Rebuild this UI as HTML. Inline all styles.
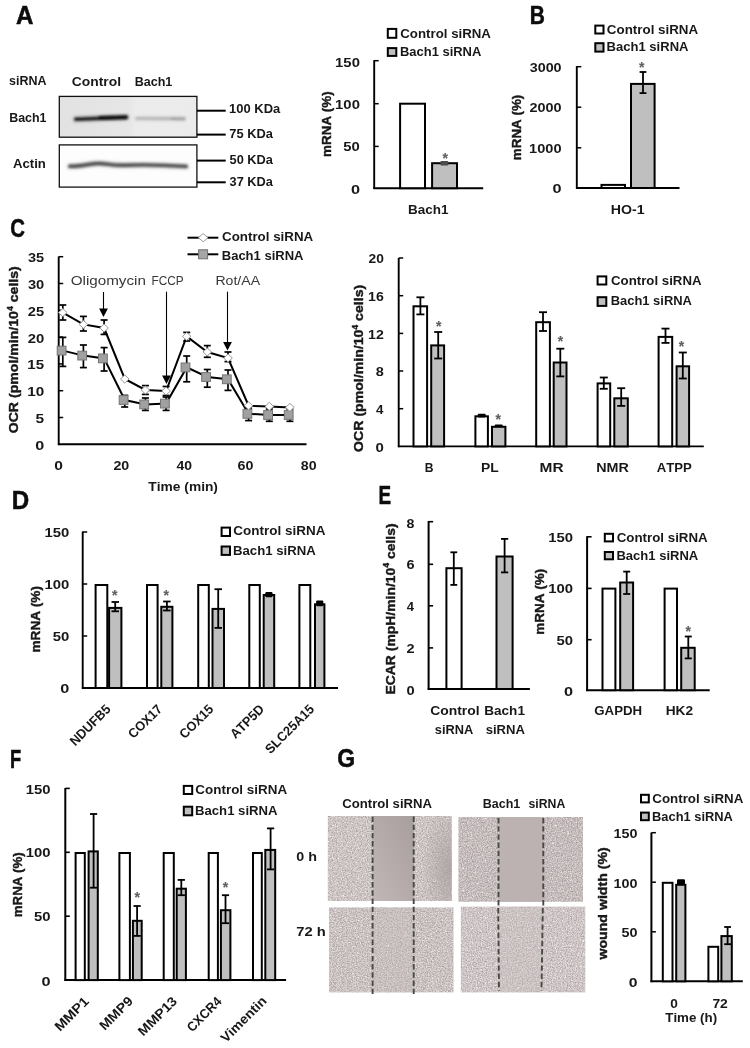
<!DOCTYPE html>
<html><head><meta charset="utf-8"><title>Figure</title>
<style>html,body{margin:0;padding:0;background:#fff}svg{display:block}text{font-kerning:none;font-family:"Liberation Sans",sans-serif;font-weight:bold;fill:#181818}</style>
</head><body>
<svg width="750" height="1048" viewBox="0 0 750 1048">
<defs>
<linearGradient id="blot1" x1="0" x2="1"><stop offset="0" stop-color="#e2e2e2"/><stop offset=".5" stop-color="#e6e6e6"/><stop offset=".56" stop-color="#ececec"/><stop offset="1" stop-color="#ebebeb"/></linearGradient>
<filter id="blur1" x="-5%" y="-150%" width="110%" height="400%"><feGaussianBlur stdDeviation="0.8"/></filter>
<filter id="blur2" x="-5%" y="-150%" width="110%" height="400%"><feGaussianBlur stdDeviation="1.6"/></filter>
<filter id="soft" x="-10%" y="0" width="120%" height="100%"><feGaussianBlur stdDeviation="2 0"/></filter>
<filter id="tex1" x="0" y="0" width="100%" height="100%" color-interpolation-filters="sRGB"><feTurbulence type="fractalNoise" baseFrequency="0.8" numOctaves="2" seed="6"/><feColorMatrix type="matrix" values="0 0 0 0.45 0.575  0 0 0 0.45 0.540  0 0 0 0.45 0.540  0 0 0 0 1"/><feComposite in2="SourceGraphic" operator="in"/></filter>
<filter id="tex2" x="0" y="0" width="100%" height="100%" color-interpolation-filters="sRGB"><feTurbulence type="fractalNoise" baseFrequency="0.8" numOctaves="2" seed="11"/><feColorMatrix type="matrix" values="0 0 0 0.45 0.547  0 0 0 0.45 0.510  0 0 0 0.45 0.512  0 0 0 0 1"/><feComposite in2="SourceGraphic" operator="in"/></filter>
<filter id="tex3" x="0" y="0" width="100%" height="100%" color-interpolation-filters="sRGB"><feTurbulence type="fractalNoise" baseFrequency="0.8" numOctaves="2" seed="16"/><feColorMatrix type="matrix" values="0 0 0 0.45 0.567  0 0 0 0.45 0.533  0 0 0 0.45 0.533  0 0 0 0 1"/><feComposite in2="SourceGraphic" operator="in"/></filter>
<filter id="tex4" x="0" y="0" width="100%" height="100%" color-interpolation-filters="sRGB"><feTurbulence type="fractalNoise" baseFrequency="0.8" numOctaves="2" seed="21"/><feColorMatrix type="matrix" values="0 0 0 0.45 0.580  0 0 0 0.45 0.548  0 0 0 0.45 0.548  0 0 0 0 1"/><feComposite in2="SourceGraphic" operator="in"/></filter>
<filter id="spk" x="0" y="0" width="100%" height="100%" color-interpolation-filters="sRGB"><feTurbulence type="fractalNoise" baseFrequency="0.4" numOctaves="1" seed="11"/><feColorMatrix type="matrix" values="0 0 0 0 1  0 0 0 0 1  0 0 0 0 1  0 0 0 10 -7"/><feComposite in2="SourceGraphic" operator="in"/></filter>
<linearGradient id="w1" x1="1" y1="0" x2="0" y2="1"><stop offset="0" stop-color="#a89e9e"/><stop offset="1" stop-color="#c1b7b6"/></linearGradient>
<radialGradient id="d1" cx="0.95" cy="0.62" r="0.75"><stop offset="0" stop-color="#a79d9e" stop-opacity=".75"/><stop offset="1" stop-color="#a3999a" stop-opacity="0"/></radialGradient>
</defs>
<rect width="750" height="1048" fill="#fff"/>
<text transform="translate(15.95,24.0) scale(0.966,1)" font-size="25" style="fill:#0c0c0c" stroke="#0c0c0c" stroke-width=".5">A</text>
<text transform="translate(529.85,24.0) scale(0.840,1)" font-size="25" style="fill:#0c0c0c" stroke="#0c0c0c" stroke-width=".5">B</text>
<text transform="translate(10.32,237.0) scale(0.814,1)" font-size="25" style="fill:#0c0c0c" stroke="#0c0c0c" stroke-width=".5">C</text>
<text transform="translate(11.64,509.3) scale(0.965,1)" font-size="25" style="fill:#0c0c0c" stroke="#0c0c0c" stroke-width=".5">D</text>
<text transform="translate(378.59,504.0) scale(0.756,1)" font-size="25" style="fill:#0c0c0c" stroke="#0c0c0c" stroke-width=".5">E</text>
<text transform="translate(9.92,767.6) scale(0.733,1)" font-size="25" style="fill:#0c0c0c" stroke="#0c0c0c" stroke-width=".5">F</text>
<text transform="translate(337.31,767.2) scale(0.919,1)" font-size="25" style="fill:#0c0c0c" stroke="#0c0c0c" stroke-width=".5">G</text>
<text transform="translate(9.06,84.6) scale(0.939,1)" font-size="13.3">siRNA</text>
<text transform="translate(71.73,85.7) scale(1.042,1)" font-size="13.3">Control</text>
<text transform="translate(134.66,85.7) scale(0.944,1)" font-size="13.3">Bach1</text>
<text transform="translate(9.17,122.4) scale(0.936,1)" font-size="13.3">Bach1</text>
<text transform="translate(12.97,167.8) scale(0.988,1)" font-size="13.3">Actin</text>
<rect x="59.3" y="96.4" width="137.6" height="40.8" fill="url(#blot1)" stroke="#111" stroke-width="1.3"/>
<rect x="59.3" y="144.9" width="137.6" height="42.2" fill="#fdfdfd" stroke="#111" stroke-width="1.3"/>
<g filter="url(#blur2)">
<path d="M76 119.2 C95 118.6 110 117.6 126 117.3" stroke="#8a8a8a" stroke-width="6.5" stroke-linecap="round" fill="none" opacity=".55"/>
<path d="M137 118.4 L184 118.8" stroke="#cfcfcf" stroke-width="5" stroke-linecap="round" fill="none" opacity=".7"/>
<path d="M70 166.2 C82 166.4 90 163.4 99 163.5 S 112 165.6 124 165.2 S 160 164.6 186 166.4" stroke="#9a9a9a" stroke-width="6" stroke-linecap="round" fill="none" opacity=".55"/>
</g>
<g filter="url(#blur1)">
<path d="M76 119.2 C95 118.6 110 117.6 126 117.3" stroke="#1e1e1e" stroke-width="3.3" stroke-linecap="round" fill="none"/>
<path d="M100 118.1 L126 117.3" stroke="#111" stroke-width="4" stroke-linecap="round" fill="none"/>
<path d="M137 118.4 L184 118.8" stroke="#b4b4b4" stroke-width="2.4" stroke-linecap="round" fill="none"/>
<path d="M172 118.7 L184 119" stroke="#a2a2a2" stroke-width="2.6" stroke-linecap="round" fill="none"/>
<path d="M70 166.2 C82 166.4 90 163.4 99 163.5 S 112 165.6 124 165.2 S 160 164.6 186 166.4" stroke="#555" stroke-width="3.4" stroke-linecap="round" fill="none"/>
</g>
<line x1="197.0" y1="110.7" x2="225.7" y2="110.7" stroke="#000" stroke-width="2"/>
<text transform="translate(229.08,113.0) scale(0.976,1)" font-size="13.3">100 KDa</text>
<line x1="197.0" y1="134.6" x2="225.7" y2="134.6" stroke="#000" stroke-width="2"/>
<text transform="translate(229.35,137.7) scale(0.966,1)" font-size="13.3">75 KDa</text>
<line x1="197.0" y1="160.6" x2="225.7" y2="160.6" stroke="#000" stroke-width="2"/>
<text transform="translate(229.51,164.3) scale(0.963,1)" font-size="13.3">50 KDa</text>
<line x1="197.0" y1="182.3" x2="225.7" y2="182.3" stroke="#000" stroke-width="2"/>
<text transform="translate(229.61,185.7) scale(0.960,1)" font-size="13.3">37 KDa</text>
<rect x="387.8" y="28.9" width="8.5" height="8.9" fill="#fff" stroke="#000" stroke-width="2"/>
<rect x="387.8" y="48.1" width="8.5" height="7.8" fill="#bfbfbf" stroke="#000" stroke-width="2"/>
<text transform="translate(400.25,37.5) scale(0.999,1)" font-size="13.3">Control siRNA</text>
<text transform="translate(399.93,56.4) scale(0.976,1)" font-size="13.3">Bach1 siRNA</text>
<line x1="374.2" y1="60.1" x2="374.2" y2="189.0" stroke="#000" stroke-width="1.9"/>
<line x1="373.4" y1="188.2" x2="483.2" y2="188.2" stroke="#000" stroke-width="1.9"/>
<line x1="374.2" y1="146.4" x2="378.7" y2="146.4" stroke="#000" stroke-width="1.5"/>
<line x1="374.2" y1="103.7" x2="378.7" y2="103.7" stroke="#000" stroke-width="1.5"/>
<line x1="374.2" y1="60.7" x2="378.7" y2="60.7" stroke="#000" stroke-width="1.5"/>
<text transform="translate(335.11,67.2) scale(1.143,1)" font-size="13">150</text>
<text transform="translate(335.11,108.5) scale(1.143,1)" font-size="13">100</text>
<text transform="translate(343.34,151.2) scale(1.146,1)" font-size="13">50</text>
<text transform="translate(350.91,193.7) scale(1.254,1)" font-size="13">0</text>
<rect x="400.1" y="103.7" width="24.9" height="84.5" fill="#fff" stroke="#000" stroke-width="2"/>
<rect x="432.1" y="163.2" width="24.9" height="25.0" fill="#bfbfbf" stroke="#000" stroke-width="2"/>
<rect x="440.4" y="160.9" width="8" height="4.5" rx="1" fill="#4a4a4a"/>
<text x="442.6" y="162.6" font-size="14" style="fill:#606060" stroke="#606060" stroke-width=".15">*</text>
<text transform="translate(408.10,214.0) scale(1.014,1)" font-size="13.3">Bach1</text>
<text transform="translate(331.0,156.88) rotate(-90) scale(1.008,1)" font-size="13.3" stroke="#181818" stroke-width=".4">mRNA (%)</text>
<rect x="595.3" y="25.6" width="8.2" height="7.9" fill="#fff" stroke="#000" stroke-width="2"/>
<rect x="595.3" y="43.2" width="8.2" height="8.4" fill="#bfbfbf" stroke="#000" stroke-width="2"/>
<text transform="translate(606.85,34.2) scale(1.005,1)" font-size="13.3">Control siRNA</text>
<text transform="translate(606.53,50.7) scale(0.982,1)" font-size="13.3">Bach1 siRNA</text>
<line x1="576.8" y1="66.1" x2="576.8" y2="188.8" stroke="#000" stroke-width="1.9"/>
<line x1="576.0" y1="188.0" x2="679.5" y2="188.0" stroke="#000" stroke-width="1.9"/>
<line x1="576.8" y1="147.8" x2="581.3" y2="147.8" stroke="#000" stroke-width="1.5"/>
<line x1="576.8" y1="107.2" x2="581.3" y2="107.2" stroke="#000" stroke-width="1.5"/>
<line x1="576.8" y1="66.7" x2="581.3" y2="66.7" stroke="#000" stroke-width="1.5"/>
<text transform="translate(529.67,71.6) scale(1.104,1)" font-size="13">3000</text>
<text transform="translate(529.50,112.0) scale(1.110,1)" font-size="13">2000</text>
<text transform="translate(529.08,152.5) scale(1.124,1)" font-size="13">1000</text>
<text transform="translate(552.61,193.1) scale(1.254,1)" font-size="13">0</text>
<rect x="601.5" y="184.9" width="23.5" height="3.1" fill="#fff" stroke="#000" stroke-width="2"/>
<rect x="631.0" y="83.9" width="23.6" height="104.1" fill="#bfbfbf" stroke="#000" stroke-width="2"/>
<line x1="643.0" y1="72.0" x2="643.0" y2="93.1" stroke="#000" stroke-width="1.8"/>
<line x1="639.6" y1="72.0" x2="646.4" y2="72.0" stroke="#000" stroke-width="1.8"/>
<line x1="639.6" y1="93.1" x2="646.4" y2="93.1" stroke="#000" stroke-width="1.8"/>
<text x="639.1" y="72.0" font-size="14" style="fill:#606060" stroke="#606060" stroke-width=".15">*</text>
<text transform="translate(610.85,213.6) scale(1.065,1)" font-size="13.3">HO-1</text>
<text transform="translate(521.3,160.18) rotate(-90) scale(1.008,1)" font-size="13.3" stroke="#181818" stroke-width=".4">mRNA (%)</text>
<line x1="58.7" y1="256.5" x2="58.7" y2="445.1" stroke="#000" stroke-width="1.9"/>
<line x1="57.9" y1="444.3" x2="306.5" y2="444.3" stroke="#000" stroke-width="1.9"/>
<line x1="58.7" y1="417.5" x2="63.2" y2="417.5" stroke="#000" stroke-width="1.5"/>
<line x1="58.7" y1="390.7" x2="63.2" y2="390.7" stroke="#000" stroke-width="1.5"/>
<line x1="58.7" y1="363.9" x2="63.2" y2="363.9" stroke="#000" stroke-width="1.5"/>
<line x1="58.7" y1="337.1" x2="63.2" y2="337.1" stroke="#000" stroke-width="1.5"/>
<line x1="58.7" y1="310.3" x2="63.2" y2="310.3" stroke="#000" stroke-width="1.5"/>
<line x1="58.7" y1="283.5" x2="63.2" y2="283.5" stroke="#000" stroke-width="1.5"/>
<line x1="58.7" y1="256.7" x2="63.2" y2="256.7" stroke="#000" stroke-width="1.5"/>
<text transform="translate(35.36,449.8) scale(1.245,1)" font-size="13">0</text>
<text transform="translate(35.52,423.0) scale(1.190,1)" font-size="13">5</text>
<text transform="translate(27.34,396.2) scale(1.175,1)" font-size="13">10</text>
<text transform="translate(27.35,369.4) scale(1.160,1)" font-size="13">15</text>
<text transform="translate(27.78,342.6) scale(1.143,1)" font-size="13">20</text>
<text transform="translate(27.79,315.8) scale(1.128,1)" font-size="13">25</text>
<text transform="translate(27.96,289.0) scale(1.130,1)" font-size="13">30</text>
<text transform="translate(27.97,262.2) scale(1.116,1)" font-size="13">35</text>
<text transform="translate(54.18,470.3) scale(1.170,1)" font-size="13.3">0</text>
<text transform="translate(113.41,470.3) scale(1.073,1)" font-size="13.3">20</text>
<text transform="translate(176.39,470.3) scale(1.054,1)" font-size="13.3">40</text>
<text transform="translate(237.58,470.3) scale(1.075,1)" font-size="13.3">60</text>
<text transform="translate(300.75,470.3) scale(1.070,1)" font-size="13.3">80</text>
<text transform="translate(148.35,490.6) scale(1.036,1)" font-size="13.3">Time (min)</text>
<text transform="translate(18.1,433.28) rotate(-90) scale(1.061,1)" font-size="13.3" stroke="#181818" stroke-width=".4">OCR (pmol/min/10<tspan font-size="8.2" dy="-5.6">4</tspan><tspan font-size="13.3" dy="5.6"> cells)</tspan></text>
<line x1="62.8" y1="305.0" x2="62.8" y2="320.0" stroke="#000" stroke-width="1.7"/>
<line x1="59.3" y1="305.0" x2="66.3" y2="305.0" stroke="#000" stroke-width="1.7"/>
<line x1="59.3" y1="320.0" x2="66.3" y2="320.0" stroke="#000" stroke-width="1.7"/>
<line x1="83.4" y1="316.4" x2="83.4" y2="331.0" stroke="#000" stroke-width="1.7"/>
<line x1="79.9" y1="316.4" x2="86.9" y2="316.4" stroke="#000" stroke-width="1.7"/>
<line x1="79.9" y1="331.0" x2="86.9" y2="331.0" stroke="#000" stroke-width="1.7"/>
<line x1="104.1" y1="320.0" x2="104.1" y2="334.4" stroke="#000" stroke-width="1.7"/>
<line x1="100.6" y1="320.0" x2="107.6" y2="320.0" stroke="#000" stroke-width="1.7"/>
<line x1="100.6" y1="334.4" x2="107.6" y2="334.4" stroke="#000" stroke-width="1.7"/>
<line x1="145.4" y1="385.6" x2="145.4" y2="394.4" stroke="#000" stroke-width="1.7"/>
<line x1="141.9" y1="385.6" x2="148.9" y2="385.6" stroke="#000" stroke-width="1.7"/>
<line x1="141.9" y1="394.4" x2="148.9" y2="394.4" stroke="#000" stroke-width="1.7"/>
<line x1="166.1" y1="386.5" x2="166.1" y2="395.5" stroke="#000" stroke-width="1.7"/>
<line x1="162.6" y1="386.5" x2="169.6" y2="386.5" stroke="#000" stroke-width="1.7"/>
<line x1="162.6" y1="395.5" x2="169.6" y2="395.5" stroke="#000" stroke-width="1.7"/>
<line x1="186.7" y1="332.4" x2="186.7" y2="341.0" stroke="#000" stroke-width="1.7"/>
<line x1="183.2" y1="332.4" x2="190.2" y2="332.4" stroke="#000" stroke-width="1.7"/>
<line x1="183.2" y1="341.0" x2="190.2" y2="341.0" stroke="#000" stroke-width="1.7"/>
<line x1="207.3" y1="345.6" x2="207.3" y2="357.3" stroke="#000" stroke-width="1.7"/>
<line x1="203.8" y1="345.6" x2="210.8" y2="345.6" stroke="#000" stroke-width="1.7"/>
<line x1="203.8" y1="357.3" x2="210.8" y2="357.3" stroke="#000" stroke-width="1.7"/>
<line x1="228.0" y1="352.0" x2="228.0" y2="361.6" stroke="#000" stroke-width="1.7"/>
<line x1="224.5" y1="352.0" x2="231.5" y2="352.0" stroke="#000" stroke-width="1.7"/>
<line x1="224.5" y1="361.6" x2="231.5" y2="361.6" stroke="#000" stroke-width="1.7"/>
<line x1="62.8" y1="337.4" x2="62.8" y2="366.4" stroke="#000" stroke-width="1.7"/>
<line x1="59.3" y1="337.4" x2="66.3" y2="337.4" stroke="#000" stroke-width="1.7"/>
<line x1="59.3" y1="366.4" x2="66.3" y2="366.4" stroke="#000" stroke-width="1.7"/>
<line x1="83.4" y1="345.0" x2="83.4" y2="367.6" stroke="#000" stroke-width="1.7"/>
<line x1="79.9" y1="345.0" x2="86.9" y2="345.0" stroke="#000" stroke-width="1.7"/>
<line x1="79.9" y1="367.6" x2="86.9" y2="367.6" stroke="#000" stroke-width="1.7"/>
<line x1="104.1" y1="347.6" x2="104.1" y2="371.0" stroke="#000" stroke-width="1.7"/>
<line x1="100.6" y1="347.6" x2="107.6" y2="347.6" stroke="#000" stroke-width="1.7"/>
<line x1="100.6" y1="371.0" x2="107.6" y2="371.0" stroke="#000" stroke-width="1.7"/>
<line x1="124.8" y1="395.4" x2="124.8" y2="407.0" stroke="#000" stroke-width="1.7"/>
<line x1="121.2" y1="395.4" x2="128.2" y2="395.4" stroke="#000" stroke-width="1.7"/>
<line x1="121.2" y1="407.0" x2="128.2" y2="407.0" stroke="#000" stroke-width="1.7"/>
<line x1="145.4" y1="398.0" x2="145.4" y2="410.4" stroke="#000" stroke-width="1.7"/>
<line x1="141.9" y1="398.0" x2="148.9" y2="398.0" stroke="#000" stroke-width="1.7"/>
<line x1="141.9" y1="410.4" x2="148.9" y2="410.4" stroke="#000" stroke-width="1.7"/>
<line x1="166.1" y1="397.0" x2="166.1" y2="410.4" stroke="#000" stroke-width="1.7"/>
<line x1="162.6" y1="397.0" x2="169.6" y2="397.0" stroke="#000" stroke-width="1.7"/>
<line x1="162.6" y1="410.4" x2="169.6" y2="410.4" stroke="#000" stroke-width="1.7"/>
<line x1="186.7" y1="356.0" x2="186.7" y2="381.8" stroke="#000" stroke-width="1.7"/>
<line x1="183.2" y1="356.0" x2="190.2" y2="356.0" stroke="#000" stroke-width="1.7"/>
<line x1="183.2" y1="381.8" x2="190.2" y2="381.8" stroke="#000" stroke-width="1.7"/>
<line x1="207.3" y1="369.5" x2="207.3" y2="387.2" stroke="#000" stroke-width="1.7"/>
<line x1="203.8" y1="369.5" x2="210.8" y2="369.5" stroke="#000" stroke-width="1.7"/>
<line x1="203.8" y1="387.2" x2="210.8" y2="387.2" stroke="#000" stroke-width="1.7"/>
<line x1="228.0" y1="370.0" x2="228.0" y2="390.4" stroke="#000" stroke-width="1.7"/>
<line x1="224.5" y1="370.0" x2="231.5" y2="370.0" stroke="#000" stroke-width="1.7"/>
<line x1="224.5" y1="390.4" x2="231.5" y2="390.4" stroke="#000" stroke-width="1.7"/>
<line x1="248.6" y1="408.0" x2="248.6" y2="420.6" stroke="#000" stroke-width="1.7"/>
<line x1="245.1" y1="408.0" x2="252.1" y2="408.0" stroke="#000" stroke-width="1.7"/>
<line x1="245.1" y1="420.6" x2="252.1" y2="420.6" stroke="#000" stroke-width="1.7"/>
<line x1="269.3" y1="409.0" x2="269.3" y2="421.3" stroke="#000" stroke-width="1.7"/>
<line x1="265.8" y1="409.0" x2="272.8" y2="409.0" stroke="#000" stroke-width="1.7"/>
<line x1="265.8" y1="421.3" x2="272.8" y2="421.3" stroke="#000" stroke-width="1.7"/>
<line x1="289.9" y1="409.0" x2="289.9" y2="421.3" stroke="#000" stroke-width="1.7"/>
<line x1="286.4" y1="409.0" x2="293.4" y2="409.0" stroke="#000" stroke-width="1.7"/>
<line x1="286.4" y1="421.3" x2="293.4" y2="421.3" stroke="#000" stroke-width="1.7"/>
<polyline fill="none" stroke="#000" stroke-width="2" points="62.8,312.6 83.4,324.4 104.1,328.0 124.8,379.0 145.4,390.0 166.1,391.0 186.7,336.4 207.3,352.0 228.0,358.0 248.6,405.7 269.3,406.4 289.9,407.4"/>
<polyline fill="none" stroke="#000" stroke-width="2" points="62.8,350.6 83.4,355.6 104.1,358.4 124.8,400.0 145.4,404.4 166.1,403.6 186.7,367.4 207.3,377.0 228.0,379.3 248.6,413.8 269.3,415.0 289.9,415.0"/>
<rect x="57.2" y="346.2" width="8.8" height="8.8" fill="#a0a0a0" stroke="#757575" stroke-width="1"/>
<rect x="77.8" y="351.2" width="8.8" height="8.8" fill="#a0a0a0" stroke="#757575" stroke-width="1"/>
<rect x="98.5" y="354.0" width="8.8" height="8.8" fill="#a0a0a0" stroke="#757575" stroke-width="1"/>
<rect x="119.2" y="395.6" width="8.8" height="8.8" fill="#a0a0a0" stroke="#757575" stroke-width="1"/>
<rect x="139.8" y="400.0" width="8.8" height="8.8" fill="#a0a0a0" stroke="#757575" stroke-width="1"/>
<rect x="160.5" y="399.2" width="8.8" height="8.8" fill="#a0a0a0" stroke="#757575" stroke-width="1"/>
<rect x="181.1" y="363.0" width="8.8" height="8.8" fill="#a0a0a0" stroke="#757575" stroke-width="1"/>
<rect x="201.7" y="372.6" width="8.8" height="8.8" fill="#a0a0a0" stroke="#757575" stroke-width="1"/>
<rect x="222.4" y="374.9" width="8.8" height="8.8" fill="#a0a0a0" stroke="#757575" stroke-width="1"/>
<rect x="243.0" y="409.4" width="8.8" height="8.8" fill="#a0a0a0" stroke="#757575" stroke-width="1"/>
<rect x="263.7" y="410.6" width="8.8" height="8.8" fill="#a0a0a0" stroke="#757575" stroke-width="1"/>
<rect x="284.3" y="410.6" width="8.8" height="8.8" fill="#a0a0a0" stroke="#757575" stroke-width="1"/>
<path d="M58.5 312.6 L62.8 308.6 L67.1 312.6 L62.8 316.6 Z" stroke-linejoin="round" fill="#fff" stroke="#9a9a9a" stroke-width="1"/>
<path d="M79.1 324.4 L83.4 320.4 L87.7 324.4 L83.4 328.4 Z" stroke-linejoin="round" fill="#fff" stroke="#9a9a9a" stroke-width="1"/>
<path d="M99.8 328.0 L104.1 324.0 L108.4 328.0 L104.1 332.0 Z" stroke-linejoin="round" fill="#fff" stroke="#9a9a9a" stroke-width="1"/>
<path d="M120.5 379.0 L124.8 375.0 L129.1 379.0 L124.8 383.0 Z" stroke-linejoin="round" fill="#fff" stroke="#9a9a9a" stroke-width="1"/>
<path d="M141.1 390.0 L145.4 386.0 L149.7 390.0 L145.4 394.0 Z" stroke-linejoin="round" fill="#fff" stroke="#9a9a9a" stroke-width="1"/>
<path d="M161.8 391.0 L166.1 387.0 L170.4 391.0 L166.1 395.0 Z" stroke-linejoin="round" fill="#fff" stroke="#9a9a9a" stroke-width="1"/>
<path d="M182.4 336.4 L186.7 332.4 L191.0 336.4 L186.7 340.4 Z" stroke-linejoin="round" fill="#fff" stroke="#9a9a9a" stroke-width="1"/>
<path d="M203.0 352.0 L207.3 348.0 L211.6 352.0 L207.3 356.0 Z" stroke-linejoin="round" fill="#fff" stroke="#9a9a9a" stroke-width="1"/>
<path d="M223.7 358.0 L228.0 354.0 L232.3 358.0 L228.0 362.0 Z" stroke-linejoin="round" fill="#fff" stroke="#9a9a9a" stroke-width="1"/>
<path d="M244.3 405.7 L248.6 401.7 L252.9 405.7 L248.6 409.7 Z" stroke-linejoin="round" fill="#fff" stroke="#9a9a9a" stroke-width="1"/>
<path d="M265.0 406.4 L269.3 402.4 L273.6 406.4 L269.3 410.4 Z" stroke-linejoin="round" fill="#fff" stroke="#9a9a9a" stroke-width="1"/>
<path d="M285.6 407.4 L289.9 403.4 L294.2 407.4 L289.9 411.4 Z" stroke-linejoin="round" fill="#fff" stroke="#9a9a9a" stroke-width="1"/>
<line x1="187.5" y1="237.7" x2="218.3" y2="237.7" stroke="#000" stroke-width="2"/>
<line x1="187.5" y1="254.3" x2="218.3" y2="254.3" stroke="#000" stroke-width="2"/>
<path d="M198.4 237.7 L203.2 233.6 L208 237.7 L203.2 241.8 Z" fill="#fff" stroke="#9a9a9a" stroke-width="1"/>
<rect x="198.6" y="249.8" width="9" height="9" fill="#a6a6a6" stroke="#6e6e6e" stroke-width="1"/>
<text transform="translate(222.05,241.4) scale(1.004,1)" font-size="13.3">Control siRNA</text>
<text transform="translate(221.73,260.1) scale(0.980,1)" font-size="13.3">Bach1 siRNA</text>
<text transform="translate(70.68,284.6) scale(1.171,1)" font-size="13" style="font-weight:normal;fill:#383838">Oligomycin</text>
<text transform="translate(151.53,284.6) scale(0.907,1)" font-size="13" style="font-weight:normal;fill:#383838">FCCP</text>
<text transform="translate(215.45,284.6) scale(1.083,1)" font-size="13" style="font-weight:normal;fill:#383838">Rot/AA</text>
<line x1="103.5" y1="292.0" x2="103.5" y2="309.5" stroke="#000" stroke-width="1.1"/>
<path d="M99.1 308.5 L107.9 308.5 L103.5 317.0 Z" fill="#000"/>
<line x1="166.5" y1="291.7" x2="166.5" y2="376.5" stroke="#000" stroke-width="1.1"/>
<path d="M162.1 375.5 L170.9 375.5 L166.5 384.0 Z" fill="#000"/>
<line x1="227.5" y1="291.7" x2="227.5" y2="343.0" stroke="#000" stroke-width="1.1"/>
<path d="M223.1 342.0 L231.9 342.0 L227.5 350.5 Z" fill="#000"/>
<line x1="398.7" y1="258.0" x2="398.7" y2="447.2" stroke="#000" stroke-width="1.9"/>
<line x1="397.9" y1="446.4" x2="703.8" y2="446.4" stroke="#000" stroke-width="1.9"/>
<line x1="398.7" y1="408.7" x2="403.2" y2="408.7" stroke="#000" stroke-width="1.5"/>
<line x1="398.7" y1="371.0" x2="403.2" y2="371.0" stroke="#000" stroke-width="1.5"/>
<line x1="398.7" y1="333.4" x2="403.2" y2="333.4" stroke="#000" stroke-width="1.5"/>
<line x1="398.7" y1="295.7" x2="403.2" y2="295.7" stroke="#000" stroke-width="1.5"/>
<line x1="398.7" y1="258.0" x2="403.2" y2="258.0" stroke="#000" stroke-width="1.5"/>
<text transform="translate(375.56,451.7) scale(1.156,1)" font-size="13">0</text>
<text transform="translate(375.95,414.0) scale(1.027,1)" font-size="13">4</text>
<text transform="translate(375.69,376.3) scale(1.114,1)" font-size="13">8</text>
<text transform="translate(368.11,338.6) scale(1.090,1)" font-size="13">12</text>
<text transform="translate(368.11,301.0) scale(1.086,1)" font-size="13">16</text>
<text transform="translate(368.52,263.3) scale(1.061,1)" font-size="13">20</text>
<rect x="597.6" y="276.4" width="8.7" height="8.1" fill="#fff" stroke="#000" stroke-width="2"/>
<rect x="597.6" y="297.2" width="8.7" height="8.7" fill="#bfbfbf" stroke="#000" stroke-width="2"/>
<text transform="translate(611.06,284.5) scale(0.996,1)" font-size="13.3">Control siRNA</text>
<text transform="translate(610.73,305.3) scale(0.972,1)" font-size="13.3">Bach1 siRNA</text>
<rect x="413.5" y="306.3" width="13.6" height="140.1" fill="#fff" stroke="#000" stroke-width="2"/>
<rect x="431.2" y="345.4" width="12.9" height="101.0" fill="#bfbfbf" stroke="#000" stroke-width="2"/>
<line x1="420.4" y1="297.3" x2="420.4" y2="314.4" stroke="#000" stroke-width="1.8"/>
<line x1="416.4" y1="297.3" x2="424.4" y2="297.3" stroke="#000" stroke-width="1.8"/>
<line x1="416.4" y1="314.4" x2="424.4" y2="314.4" stroke="#000" stroke-width="1.8"/>
<line x1="438.2" y1="332.0" x2="438.2" y2="358.5" stroke="#000" stroke-width="1.8"/>
<line x1="434.2" y1="332.0" x2="442.2" y2="332.0" stroke="#000" stroke-width="1.8"/>
<line x1="434.2" y1="358.5" x2="442.2" y2="358.5" stroke="#000" stroke-width="1.8"/>
<text x="435.9" y="330.7" font-size="14" style="fill:#606060" stroke="#606060" stroke-width=".15">*</text>
<text transform="translate(424.79,471.6) scale(0.912,1)" font-size="13.3">B</text>
<rect x="475.4" y="416.3" width="12.5" height="30.1" fill="#fff" stroke="#000" stroke-width="2"/>
<rect x="492.0" y="426.8" width="13.4" height="19.6" fill="#bfbfbf" stroke="#000" stroke-width="2"/>
<rect x="477.7" y="413.8" width="8" height="3.8" rx="1" fill="#000"/>
<rect x="494.7" y="424.6" width="8" height="2.0" rx="1" fill="#000"/>
<text x="495.6" y="423.6" font-size="14" style="fill:#606060" stroke="#606060" stroke-width=".15">*</text>
<text transform="translate(481.07,471.6) scale(1.045,1)" font-size="13.3">PL</text>
<rect x="536.2" y="322.2" width="13.7" height="124.2" fill="#fff" stroke="#000" stroke-width="2"/>
<rect x="553.7" y="362.5" width="12.8" height="83.9" fill="#bfbfbf" stroke="#000" stroke-width="2"/>
<line x1="543.0" y1="312.2" x2="543.0" y2="331.0" stroke="#000" stroke-width="1.8"/>
<line x1="539.0" y1="312.2" x2="547.0" y2="312.2" stroke="#000" stroke-width="1.8"/>
<line x1="539.0" y1="331.0" x2="547.0" y2="331.0" stroke="#000" stroke-width="1.8"/>
<line x1="560.3" y1="348.7" x2="560.3" y2="376.4" stroke="#000" stroke-width="1.8"/>
<line x1="556.3" y1="348.7" x2="564.3" y2="348.7" stroke="#000" stroke-width="1.8"/>
<line x1="556.3" y1="376.4" x2="564.3" y2="376.4" stroke="#000" stroke-width="1.8"/>
<text x="557.7" y="346.3" font-size="14" style="fill:#606060" stroke="#606060" stroke-width=".15">*</text>
<text transform="translate(539.57,471.6) scale(1.163,1)" font-size="13.3">MR</text>
<rect x="597.6" y="383.4" width="12.6" height="63.0" fill="#fff" stroke="#000" stroke-width="2"/>
<rect x="614.3" y="398.3" width="13.5" height="48.1" fill="#bfbfbf" stroke="#000" stroke-width="2"/>
<line x1="603.8" y1="377.5" x2="603.8" y2="388.8" stroke="#000" stroke-width="1.8"/>
<line x1="599.8" y1="377.5" x2="607.8" y2="377.5" stroke="#000" stroke-width="1.8"/>
<line x1="599.8" y1="388.8" x2="607.8" y2="388.8" stroke="#000" stroke-width="1.8"/>
<line x1="621.2" y1="388.2" x2="621.2" y2="405.9" stroke="#000" stroke-width="1.8"/>
<line x1="617.2" y1="388.2" x2="625.2" y2="388.2" stroke="#000" stroke-width="1.8"/>
<line x1="617.2" y1="405.9" x2="625.2" y2="405.9" stroke="#000" stroke-width="1.8"/>
<text transform="translate(596.24,471.6) scale(1.078,1)" font-size="13.3">NMR</text>
<rect x="658.6" y="336.9" width="13.6" height="109.5" fill="#fff" stroke="#000" stroke-width="2"/>
<rect x="676.6" y="366.3" width="12.5" height="80.1" fill="#bfbfbf" stroke="#000" stroke-width="2"/>
<line x1="665.5" y1="328.6" x2="665.5" y2="342.9" stroke="#000" stroke-width="1.8"/>
<line x1="661.5" y1="328.6" x2="669.5" y2="328.6" stroke="#000" stroke-width="1.8"/>
<line x1="661.5" y1="342.9" x2="669.5" y2="342.9" stroke="#000" stroke-width="1.8"/>
<line x1="682.8" y1="352.5" x2="682.8" y2="378.5" stroke="#000" stroke-width="1.8"/>
<line x1="678.8" y1="352.5" x2="686.8" y2="352.5" stroke="#000" stroke-width="1.8"/>
<line x1="678.8" y1="378.5" x2="686.8" y2="378.5" stroke="#000" stroke-width="1.8"/>
<text x="678.8" y="350.6" font-size="14" style="fill:#606060" stroke="#606060" stroke-width=".15">*</text>
<text transform="translate(656.77,471.6) scale(0.989,1)" font-size="13.3">ATPP</text>
<text transform="translate(363.2,451.88) rotate(-90) scale(1.061,1)" font-size="13.3" stroke="#181818" stroke-width=".4">OCR (pmol/min/10<tspan font-size="8.2" dy="-5.6">4</tspan><tspan font-size="13.3" dy="5.6"> cells)</tspan></text>
<line x1="82.7" y1="531.5" x2="82.7" y2="688.8" stroke="#000" stroke-width="1.9"/>
<line x1="81.9" y1="688.0" x2="338.0" y2="688.0" stroke="#000" stroke-width="1.9"/>
<line x1="82.7" y1="636.0" x2="87.2" y2="636.0" stroke="#000" stroke-width="1.5"/>
<line x1="82.7" y1="584.0" x2="87.2" y2="584.0" stroke="#000" stroke-width="1.5"/>
<line x1="82.7" y1="532.0" x2="87.2" y2="532.0" stroke="#000" stroke-width="1.5"/>
<text transform="translate(60.31,693.3) scale(1.254,1)" font-size="13">0</text>
<text transform="translate(52.74,641.3) scale(1.146,1)" font-size="13">50</text>
<text transform="translate(44.51,589.3) scale(1.143,1)" font-size="13">100</text>
<text transform="translate(44.51,537.3) scale(1.143,1)" font-size="13">150</text>
<rect x="221.6" y="527.6" width="8.4" height="8.4" fill="#fff" stroke="#000" stroke-width="2"/>
<rect x="221.6" y="546.5" width="8.4" height="8.4" fill="#bfbfbf" stroke="#000" stroke-width="2"/>
<text transform="translate(233.35,535.4) scale(1.014,1)" font-size="13.3">Control siRNA</text>
<text transform="translate(233.02,554.6) scale(0.992,1)" font-size="13.3">Bach1 siRNA</text>
<rect x="95.6" y="585.0" width="11.7" height="103.0" fill="#fff" stroke="#000" stroke-width="2"/>
<rect x="109.1" y="607.9" width="12.3" height="80.1" fill="#bfbfbf" stroke="#000" stroke-width="2"/>
<line x1="115.2" y1="602.0" x2="115.2" y2="611.3" stroke="#000" stroke-width="1.8"/>
<line x1="111.5" y1="602.0" x2="119.0" y2="602.0" stroke="#000" stroke-width="1.8"/>
<line x1="111.5" y1="611.3" x2="119.0" y2="611.3" stroke="#000" stroke-width="1.8"/>
<text x="112.0" y="600.0" font-size="14" style="fill:#606060" stroke="#606060" stroke-width=".15">*</text>
<text transform="translate(111.3,710.3) rotate(-45) scale(0.955,1)" x="-53.57" font-size="13.3">NDUFB5</text>
<rect x="147.0" y="585.0" width="10.6" height="103.0" fill="#fff" stroke="#000" stroke-width="2"/>
<rect x="161.3" y="606.8" width="11.1" height="81.2" fill="#bfbfbf" stroke="#000" stroke-width="2"/>
<line x1="166.9" y1="601.5" x2="166.9" y2="610.5" stroke="#000" stroke-width="1.8"/>
<line x1="163.1" y1="601.5" x2="170.6" y2="601.5" stroke="#000" stroke-width="1.8"/>
<line x1="163.1" y1="610.5" x2="170.6" y2="610.5" stroke="#000" stroke-width="1.8"/>
<text x="163.6" y="599.5" font-size="14" style="fill:#606060" stroke="#606060" stroke-width=".15">*</text>
<text transform="translate(162.5,710.3) rotate(-45) scale(0.955,1)" x="-43.03" font-size="13.3">COX17</text>
<rect x="198.2" y="585.0" width="10.6" height="103.0" fill="#fff" stroke="#000" stroke-width="2"/>
<rect x="212.5" y="608.9" width="11.5" height="79.1" fill="#bfbfbf" stroke="#000" stroke-width="2"/>
<line x1="218.2" y1="589.2" x2="218.2" y2="627.9" stroke="#000" stroke-width="1.8"/>
<line x1="214.5" y1="589.2" x2="222.0" y2="589.2" stroke="#000" stroke-width="1.8"/>
<line x1="214.5" y1="627.9" x2="222.0" y2="627.9" stroke="#000" stroke-width="1.8"/>
<text transform="translate(213.9,710.3) rotate(-45) scale(0.955,1)" x="-43.24" font-size="13.3">COX15</text>
<rect x="249.3" y="585.0" width="10.5" height="103.0" fill="#fff" stroke="#000" stroke-width="2"/>
<rect x="263.7" y="595.0" width="10.5" height="93.0" fill="#bfbfbf" stroke="#000" stroke-width="2"/>
<rect x="265.3" y="592.0" width="7.2" height="5.3" rx="1.2" fill="#000"/>
<text transform="translate(264.6,710.3) rotate(-45) scale(0.955,1)" x="-43.04" font-size="13.3">ATP5D</text>
<rect x="299.4" y="585.0" width="10.9" height="103.0" fill="#fff" stroke="#000" stroke-width="2"/>
<rect x="315.0" y="604.3" width="9.4" height="83.7" fill="#bfbfbf" stroke="#000" stroke-width="2"/>
<rect x="316.1" y="600.4" width="7.2" height="5.9" rx="1.2" fill="#000"/>
<text transform="translate(314.7,710.3) rotate(-45) scale(0.955,1)" x="-65.42" font-size="13.3">SLC25A15</text>
<text transform="translate(39.8,652.50) rotate(-90) scale(1.022,1)" font-size="13.3" stroke="#181818" stroke-width=".4">mRNA (%)</text>
<line x1="428.6" y1="521.0" x2="428.6" y2="689.9" stroke="#000" stroke-width="2"/>
<line x1="427.7" y1="689.0" x2="529.9" y2="689.0" stroke="#000" stroke-width="2"/>
<line x1="428.6" y1="647.9" x2="433.1" y2="647.9" stroke="#000" stroke-width="1.6"/>
<line x1="428.6" y1="605.8" x2="433.1" y2="605.8" stroke="#000" stroke-width="1.6"/>
<line x1="428.6" y1="564.3" x2="433.1" y2="564.3" stroke="#000" stroke-width="1.6"/>
<line x1="428.6" y1="521.7" x2="433.1" y2="521.7" stroke="#000" stroke-width="1.6"/>
<text transform="translate(406.42,695.0) scale(1.132,1)" font-size="13">0</text>
<text transform="translate(406.50,652.9) scale(1.118,1)" font-size="13">2</text>
<text transform="translate(406.80,611.1) scale(1.005,1)" font-size="13">4</text>
<text transform="translate(406.47,569.2) scale(1.114,1)" font-size="13">6</text>
<text transform="translate(406.55,527.8) scale(1.091,1)" font-size="13">8</text>
<rect x="446.4" y="568.2" width="15.2" height="120.8" fill="#fff" stroke="#000" stroke-width="2"/>
<line x1="453.8" y1="552.3" x2="453.8" y2="584.9" stroke="#000" stroke-width="1.8"/>
<line x1="450.4" y1="552.3" x2="457.2" y2="552.3" stroke="#000" stroke-width="1.8"/>
<line x1="450.4" y1="584.9" x2="457.2" y2="584.9" stroke="#000" stroke-width="1.8"/>
<rect x="496.5" y="556.5" width="16.1" height="132.5" fill="#bfbfbf" stroke="#000" stroke-width="2"/>
<line x1="504.6" y1="538.9" x2="504.6" y2="572.4" stroke="#000" stroke-width="1.8"/>
<line x1="501.0" y1="538.9" x2="508.2" y2="538.9" stroke="#000" stroke-width="1.8"/>
<line x1="501.0" y1="572.4" x2="508.2" y2="572.4" stroke="#000" stroke-width="1.8"/>
<text transform="translate(430.23,715.0) scale(1.044,1)" font-size="13.3">Control</text>
<text transform="translate(484.29,715.0) scale(1.019,1)" font-size="13.3">Bach1</text>
<text transform="translate(434.85,734.0) scale(0.964,1)" font-size="13.3">siRNA</text>
<text transform="translate(485.74,734.0) scale(0.982,1)" font-size="13.3">siRNA</text>
<text transform="translate(394.5,694.53) rotate(-90) scale(1.047,1)" font-size="13.3" stroke="#181818" stroke-width=".4">ECAR (mpH/min/10<tspan font-size="8.2" dy="-5.6">4</tspan><tspan font-size="13.3" dy="5.6"> cells)</tspan></text>
<line x1="587.1" y1="536.2" x2="587.1" y2="691.1" stroke="#000" stroke-width="2"/>
<line x1="586.2" y1="690.2" x2="709.7" y2="690.2" stroke="#000" stroke-width="2"/>
<line x1="587.1" y1="639.7" x2="591.6" y2="639.7" stroke="#000" stroke-width="1.6"/>
<line x1="587.1" y1="588.4" x2="591.6" y2="588.4" stroke="#000" stroke-width="1.6"/>
<line x1="587.1" y1="536.8" x2="591.6" y2="536.8" stroke="#000" stroke-width="1.6"/>
<text transform="translate(564.01,695.8) scale(1.254,1)" font-size="13">0</text>
<text transform="translate(556.44,644.5) scale(1.146,1)" font-size="13">50</text>
<text transform="translate(548.21,593.2) scale(1.143,1)" font-size="13">100</text>
<text transform="translate(548.21,542.0) scale(1.143,1)" font-size="13">150</text>
<rect x="604.8" y="533.8" width="8.2" height="7.6" fill="#fff" stroke="#000" stroke-width="2"/>
<rect x="604.8" y="552.0" width="8.2" height="7.3" fill="#bfbfbf" stroke="#000" stroke-width="2"/>
<text transform="translate(616.75,542.2) scale(1.002,1)" font-size="13.3">Control siRNA</text>
<text transform="translate(616.43,559.8) scale(0.981,1)" font-size="13.3">Bach1 siRNA</text>
<rect x="602.5" y="588.6" width="12.9" height="101.6" fill="#fff" stroke="#000" stroke-width="2"/>
<rect x="620.2" y="582.5" width="12.9" height="107.7" fill="#bfbfbf" stroke="#000" stroke-width="2"/>
<line x1="626.7" y1="571.6" x2="626.7" y2="594.0" stroke="#000" stroke-width="1.8"/>
<line x1="623.2" y1="571.6" x2="630.2" y2="571.6" stroke="#000" stroke-width="1.8"/>
<line x1="623.2" y1="594.0" x2="630.2" y2="594.0" stroke="#000" stroke-width="1.8"/>
<rect x="664.6" y="588.6" width="12.4" height="101.6" fill="#fff" stroke="#000" stroke-width="2"/>
<rect x="681.2" y="647.8" width="13.5" height="42.4" fill="#bfbfbf" stroke="#000" stroke-width="2"/>
<line x1="688.3" y1="636.5" x2="688.3" y2="658.4" stroke="#000" stroke-width="1.8"/>
<line x1="684.8" y1="636.5" x2="691.8" y2="636.5" stroke="#000" stroke-width="1.8"/>
<line x1="684.8" y1="658.4" x2="691.8" y2="658.4" stroke="#000" stroke-width="1.8"/>
<text x="685.6" y="636.4" font-size="14" style="fill:#606060" stroke="#606060" stroke-width=".15">*</text>
<text transform="translate(594.26,715.0) scale(0.998,1)" font-size="13.3">GAPDH</text>
<text transform="translate(665.68,715.0) scale(1.032,1)" font-size="13.3">HK2</text>
<text transform="translate(544.2,634.69) rotate(-90) scale(1.016,1)" font-size="13.3" stroke="#181818" stroke-width=".4">mRNA (%)</text>
<line x1="65.3" y1="788.0" x2="65.3" y2="981.0" stroke="#000" stroke-width="2"/>
<line x1="64.4" y1="980.1" x2="286.1" y2="980.1" stroke="#000" stroke-width="2"/>
<line x1="65.3" y1="916.2" x2="69.8" y2="916.2" stroke="#000" stroke-width="1.6"/>
<line x1="65.3" y1="852.3" x2="69.8" y2="852.3" stroke="#000" stroke-width="1.6"/>
<line x1="65.3" y1="788.4" x2="69.8" y2="788.4" stroke="#000" stroke-width="1.6"/>
<text transform="translate(41.61,985.5) scale(1.254,1)" font-size="13">0</text>
<text transform="translate(34.04,921.3) scale(1.146,1)" font-size="13">50</text>
<text transform="translate(25.81,857.1) scale(1.143,1)" font-size="13">100</text>
<text transform="translate(25.81,794.2) scale(1.143,1)" font-size="13">150</text>
<rect x="183.8" y="785.9" width="8.4" height="8.1" fill="#fff" stroke="#000" stroke-width="2"/>
<rect x="183.8" y="806.7" width="8.4" height="8.6" fill="#bfbfbf" stroke="#000" stroke-width="2"/>
<text transform="translate(195.35,793.9) scale(1.010,1)" font-size="13.3">Control siRNA</text>
<text transform="translate(195.02,815.0) scale(0.988,1)" font-size="13.3">Bach1 siRNA</text>
<rect x="75.6" y="853.0" width="9.2" height="127.1" fill="#fff" stroke="#000" stroke-width="2"/>
<rect x="88.6" y="851.4" width="9.2" height="128.7" fill="#bfbfbf" stroke="#000" stroke-width="2"/>
<line x1="93.6" y1="814.0" x2="93.6" y2="887.7" stroke="#000" stroke-width="1.8"/>
<line x1="90.0" y1="814.0" x2="97.2" y2="814.0" stroke="#000" stroke-width="1.8"/>
<line x1="90.0" y1="887.7" x2="97.2" y2="887.7" stroke="#000" stroke-width="1.8"/>
<text transform="translate(89.5,1002.4) rotate(-45) scale(1.100,1)" x="-38.06" font-size="13.3">MMP1</text>
<rect x="119.4" y="853.0" width="10.5" height="127.1" fill="#fff" stroke="#000" stroke-width="2"/>
<rect x="132.9" y="920.8" width="8.8" height="59.3" fill="#bfbfbf" stroke="#000" stroke-width="2"/>
<line x1="137.1" y1="906.0" x2="137.1" y2="935.9" stroke="#000" stroke-width="1.8"/>
<line x1="133.5" y1="906.0" x2="140.7" y2="906.0" stroke="#000" stroke-width="1.8"/>
<line x1="133.5" y1="935.9" x2="140.7" y2="935.9" stroke="#000" stroke-width="1.8"/>
<text x="134.4" y="902.2" font-size="14" style="fill:#606060" stroke="#606060" stroke-width=".15">*</text>
<text transform="translate(133.4,1002.4) rotate(-45) scale(1.070,1)" x="-37.93" font-size="13.3">MMP9</text>
<rect x="163.7" y="853.0" width="10.1" height="127.1" fill="#fff" stroke="#000" stroke-width="2"/>
<rect x="176.7" y="888.7" width="9.2" height="91.4" fill="#bfbfbf" stroke="#000" stroke-width="2"/>
<line x1="181.3" y1="879.9" x2="181.3" y2="895.2" stroke="#000" stroke-width="1.8"/>
<line x1="177.7" y1="879.9" x2="184.9" y2="879.9" stroke="#000" stroke-width="1.8"/>
<line x1="177.7" y1="895.2" x2="184.9" y2="895.2" stroke="#000" stroke-width="1.8"/>
<text transform="translate(177.6,1002.4) rotate(-45) scale(1.070,1)" x="-45.34" font-size="13.3">MMP13</text>
<rect x="208.7" y="853.0" width="9.2" height="127.1" fill="#fff" stroke="#000" stroke-width="2"/>
<rect x="220.9" y="910.2" width="9.5" height="69.9" fill="#bfbfbf" stroke="#000" stroke-width="2"/>
<line x1="225.5" y1="895.2" x2="225.5" y2="923.2" stroke="#000" stroke-width="1.8"/>
<line x1="221.9" y1="895.2" x2="229.1" y2="895.2" stroke="#000" stroke-width="1.8"/>
<line x1="221.9" y1="923.2" x2="229.1" y2="923.2" stroke="#000" stroke-width="1.8"/>
<text x="222.8" y="891.9" font-size="14" style="fill:#606060" stroke="#606060" stroke-width=".15">*</text>
<text transform="translate(222.4,1002.4) rotate(-45) scale(0.950,1)" x="-45.01" font-size="13.3">CXCR4</text>
<rect x="253.0" y="853.0" width="8.8" height="127.1" fill="#fff" stroke="#000" stroke-width="2"/>
<rect x="265.3" y="849.9" width="9.9" height="130.2" fill="#bfbfbf" stroke="#000" stroke-width="2"/>
<line x1="270.6" y1="828.4" x2="270.6" y2="869.4" stroke="#000" stroke-width="1.8"/>
<line x1="267.0" y1="828.4" x2="274.2" y2="828.4" stroke="#000" stroke-width="1.8"/>
<line x1="267.0" y1="869.4" x2="274.2" y2="869.4" stroke="#000" stroke-width="1.8"/>
<text transform="translate(266.9,1002.4) rotate(-45) scale(1.045,1)" x="-55.34" font-size="13.3">Vimentin</text>
<text transform="translate(21.9,917.28) rotate(-90) scale(1.000,1)" font-size="13.3" stroke="#181818" stroke-width=".4">mRNA (%)</text>
<text transform="translate(342.26,808.0) scale(0.988,1)" font-size="13.3">Control siRNA</text>
<text transform="translate(482.76,808.0) scale(0.942,1)" font-size="13.3">Bach1</text>
<text transform="translate(528.57,808.0) scale(0.921,1)" font-size="13.3">siRNA</text>
<text transform="translate(296.23,860.7) scale(1.075,1)" font-size="13.3">0 h</text>
<text transform="translate(296.17,936.3) scale(1.110,1)" font-size="13.3">72 h</text>
<rect x="327.8" y="816" width="124.0" height="85.0" fill="#c4bbbb" filter="url(#tex1)"/>
<rect x="327.8" y="816" width="124.0" height="85.0" fill="#fff" filter="url(#spk)" opacity=".8"/>
<rect x="373" y="816" width="40.6" height="85.0" fill="url(#w1)" opacity="1"/>
<rect x="413.6" y="816" width="38.2" height="85" fill="url(#d1)"/>
<rect x="458.4" y="817" width="124.6" height="84.8" fill="#c4bbbb" filter="url(#tex2)"/>
<rect x="458.4" y="817" width="124.6" height="84.8" fill="#fff" filter="url(#spk)" opacity=".8"/>
<rect x="499" y="817" width="44.3" height="84.8" fill="#bcb2b2" opacity="1"/>
<rect x="329" y="907.4" width="124.5" height="85.0" fill="#c4bbbb" filter="url(#tex3)"/>
<rect x="329" y="907.4" width="124.5" height="85.0" fill="#fff" filter="url(#spk)" opacity=".8"/>
<rect x="373" y="907.4" width="40.6" height="85.0" fill="#c2b9b9" opacity="0.3"/>
<rect x="460.8" y="906.6" width="124.5" height="85.8" fill="#c4bbbb" filter="url(#tex4)"/>
<rect x="460.8" y="906.6" width="124.5" height="85.8" fill="#fff" filter="url(#spk)" opacity=".8"/>
<rect x="498.6" y="906.6" width="43.4" height="85.8" fill="#c7bebe" opacity="0.3"/>
<line x1="372.6" y1="816.5" x2="372.6" y2="994.0" stroke="#484848" stroke-width="1.9" stroke-dasharray="5.4 2.8"/>
<line x1="413.7" y1="816.5" x2="413.7" y2="994.0" stroke="#484848" stroke-width="1.9" stroke-dasharray="5.4 2.8"/>
<line x1="498.5" y1="818.0" x2="498.5" y2="907.0" stroke="#484848" stroke-width="1.9" stroke-dasharray="5.4 2.8"/>
<line x1="498.2" y1="908.0" x2="499.0" y2="990.5" stroke="#484848" stroke-width="1.9" stroke-dasharray="5.4 2.8"/>
<line x1="543.3" y1="818.0" x2="543.3" y2="907.0" stroke="#484848" stroke-width="1.9" stroke-dasharray="5.4 2.8"/>
<line x1="542.8" y1="908.0" x2="541.5" y2="990.5" stroke="#484848" stroke-width="1.9" stroke-dasharray="5.4 2.8"/>
<line x1="651.4" y1="832.6" x2="651.4" y2="982.2" stroke="#000" stroke-width="2"/>
<line x1="650.5" y1="981.3" x2="742.8" y2="981.3" stroke="#000" stroke-width="2"/>
<line x1="651.4" y1="931.8" x2="655.9" y2="931.8" stroke="#000" stroke-width="1.5"/>
<line x1="651.4" y1="882.2" x2="655.9" y2="882.2" stroke="#000" stroke-width="1.5"/>
<line x1="651.4" y1="832.7" x2="655.9" y2="832.7" stroke="#000" stroke-width="1.5"/>
<text transform="translate(628.78,986.6) scale(1.213,1)" font-size="13">0</text>
<text transform="translate(621.46,937.0) scale(1.109,1)" font-size="13">50</text>
<text transform="translate(613.49,887.5) scale(1.106,1)" font-size="13">100</text>
<text transform="translate(613.49,838.0) scale(1.106,1)" font-size="13">150</text>
<rect x="641.0" y="794.8" width="7.8" height="7.6" fill="#fff" stroke="#000" stroke-width="2"/>
<rect x="641.0" y="812.6" width="7.8" height="7.6" fill="#bfbfbf" stroke="#000" stroke-width="2"/>
<text transform="translate(652.35,803.0) scale(1.002,1)" font-size="13.3">Control siRNA</text>
<text transform="translate(652.04,821.0) scale(0.969,1)" font-size="13.3">Bach1 siRNA</text>
<rect x="662.8" y="882.8" width="9.7" height="98.5" fill="#fff" stroke="#000" stroke-width="2"/>
<rect x="676.2" y="884.8" width="9.2" height="96.5" fill="#bfbfbf" stroke="#000" stroke-width="2"/>
<rect x="677" y="879.3" width="8" height="5.6" rx="1.2" fill="#000"/>
<rect x="708.4" y="946.8" width="9.8" height="34.5" fill="#fff" stroke="#000" stroke-width="2"/>
<rect x="721.4" y="936.1" width="10.4" height="45.2" fill="#bfbfbf" stroke="#000" stroke-width="2"/>
<line x1="727.6" y1="927.0" x2="727.6" y2="944.2" stroke="#000" stroke-width="1.8"/>
<line x1="724.2" y1="927.0" x2="731.0" y2="927.0" stroke="#000" stroke-width="1.8"/>
<line x1="724.2" y1="944.2" x2="731.0" y2="944.2" stroke="#000" stroke-width="1.8"/>
<text transform="translate(670.36,1007.5) scale(1.028,1)" font-size="13.3">0</text>
<text transform="translate(712.40,1007.5) scale(1.045,1)" font-size="13.3">72</text>
<text transform="translate(665.25,1022.4) scale(1.004,1)" font-size="13.3">Time (h)</text>
<text transform="translate(607.4,959.56) rotate(-90) scale(1.063,1)" font-size="13.3" stroke="#181818" stroke-width=".4">wound width (%)</text>
</svg>
</body></html>
